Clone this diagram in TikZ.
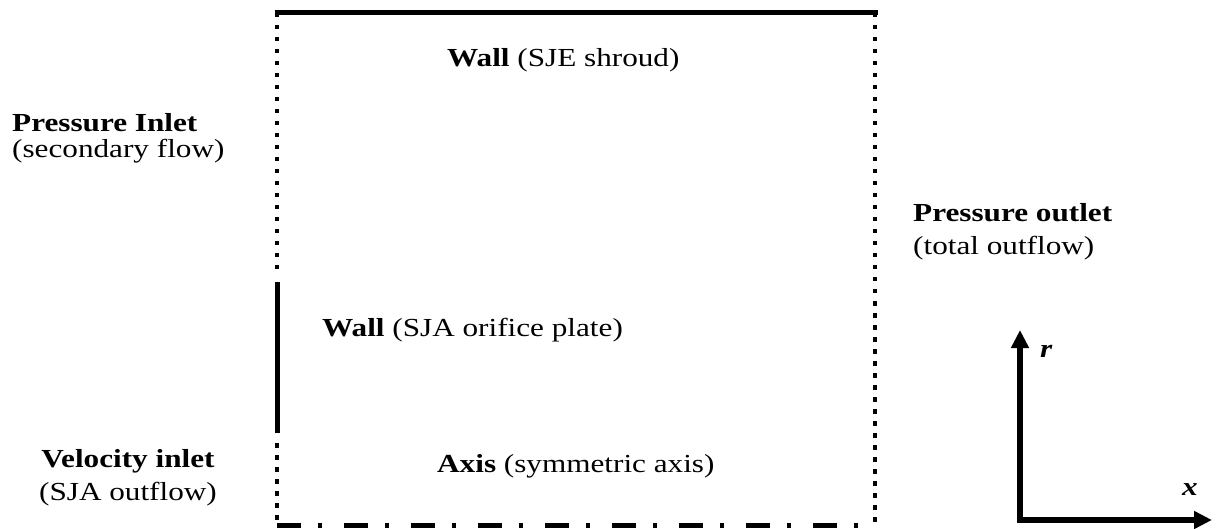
\documentclass[tikz,border=0pt]{standalone}
\usepackage{fontspec}
\setmainfont[FakeStretch=1.2]{Liberation Serif}
\usetikzlibrary{arrows.meta}
\begin{document}
\begin{tikzpicture}[x=1pt,y=-1pt,
  lbl/.style={inner sep=0pt,anchor=base west,font=\fontsize{26}{30}\selectfont},
  lblc/.style={inner sep=0pt,anchor=base,font=\fontsize{26}{30}\selectfont},
  dotline/.style={line width=4.5pt,line cap=butt,dash pattern=on 4.5pt off 7.5pt},
  solidwall/.style={line width=5pt,line cap=butt},
  axisline/.style={line width=5pt,dash pattern=on 24pt off 17pt on 4pt off 22pt},
  coordarrow/.style={line width=6pt,{Triangle[length=18pt,width=17pt]}-{Triangle[length=18pt,width=17pt]}}
]
\useasboundingbox (0,0) rectangle (1218,529);
% corners of the domain
\coordinate (tl) at (277,13);
\coordinate (tr) at (875,13);
\coordinate (br) at (875,525);
\coordinate (bl) at (277,525);
\coordinate (ltop) at (277,273);
\coordinate (wtop) at (277,282);
\coordinate (wbot) at (277,433);
\coordinate (lbot) at (277,443);
% boundaries
\draw[solidwall] ([xshift=-2.5pt]tl) -- ([xshift=2.5pt]tr);
\draw[dotline] (tl) -- (ltop);
\draw[solidwall] (wtop) -- (wbot);
\draw[dotline] (lbot) -- (bl);
\draw[dotline] (tr) -- (br);
\draw[axisline] (bl) -- (br);
% labels
\node[lbl] (wall1) at (447,67) {\textbf{Wall} (SJE shroud)};
\node[lbl] (pin1) at (12,132) {\textbf{Pressure Inlet}};
\node[lbl] (pin2) at (12,158) {(secondary flow)};
\node[lbl] (pout1) at (913,222) {\textbf{Pressure outlet}};
\node[lbl] (pout2) at (913,255) {(total outflow)};
\node[lbl] (wall2) at (322,337) {\textbf{Wall} (SJA orifice plate)};
\node[lblc] (vin1) at (128,467) {\textbf{Velocity inlet}};
\node[lblc] (vin2) at (128,500) {(SJA outflow)};
\node[lbl] (axis) at (437,472) {\textbf{Axis} (symmetric axis)};
% coordinate system
\coordinate (rtip) at (1020,330);
\coordinate (xtip) at (1212,520);
\draw[coordarrow] (rtip) |- (xtip);
\node[lbl] (rl) at (1040,357) {\textbf{\itshape r}};
\node[lbl] (xl) at (1182,495) {\textbf{\itshape x}};
\end{tikzpicture}
\end{document}
